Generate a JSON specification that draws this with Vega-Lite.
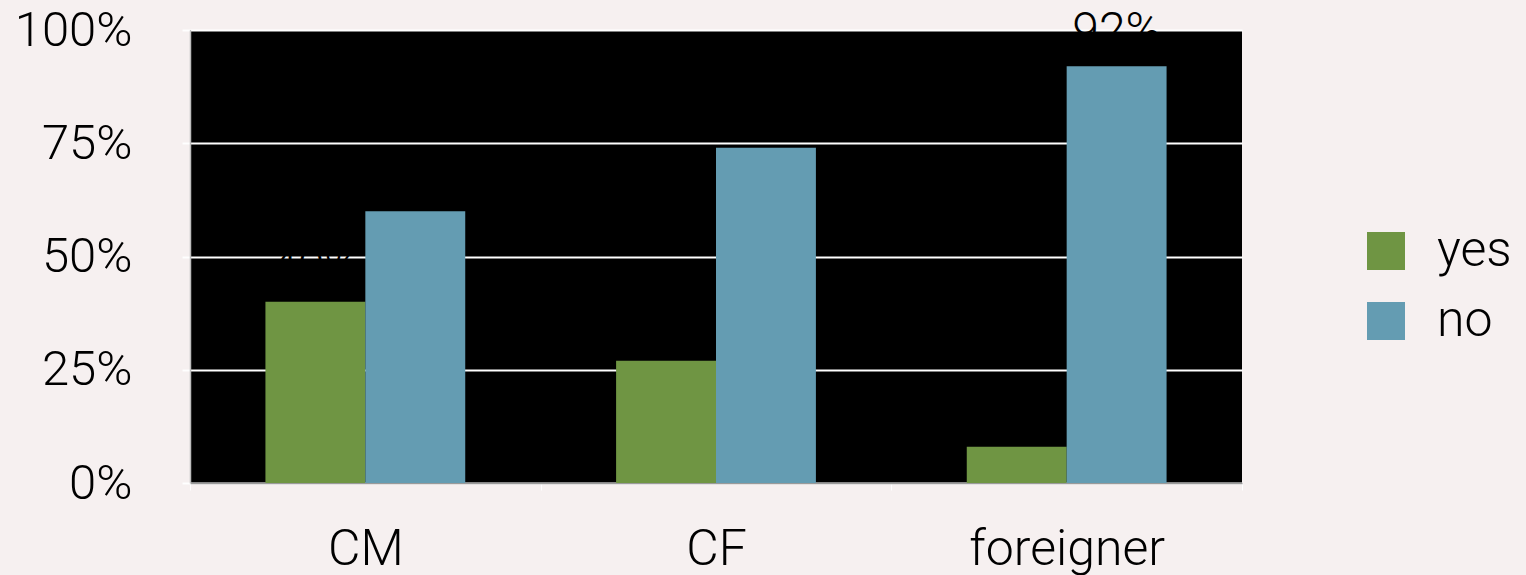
{
  "$schema": "https://vega.github.io/schema/vega-lite/v6.json",
  "width": 1052,
  "height": 453,
  "autosize": {"type": "none"},
  "padding": {"left": 190, "top": 30, "right": 284, "bottom": 92},
  "background": "#f6f0f0",
  "config": {
    "view": {"fill": "black", "stroke": null},
    "font": "Roboto",
    "axis": {"labelFont": "Roboto", "labelFontWeight": 300, "labelColor": "black"},
    "legend": {"labelFont": "Roboto", "labelFontWeight": 300, "labelColor": "black"}
  },
  "data": {
    "values": [
      {"group": "CM", "answer": "yes", "share": 0.40},
      {"group": "CM", "answer": "no", "share": 0.60},
      {"group": "CF", "answer": "yes", "share": 0.27},
      {"group": "CF", "answer": "no", "share": 0.74},
      {"group": "foreigner", "answer": "yes", "share": 0.08},
      {"group": "foreigner", "answer": "no", "share": 0.92}
    ]
  },
  "encoding": {
    "x": {
      "field": "group",
      "type": "nominal",
      "sort": ["CM", "CF", "foreigner"],
      "scale": {"paddingInner": 0, "paddingOuter": 0},
      "axis": {
        "title": null,
        "labelAngle": 0,
        "labelFontSize": 50,
        "labelLimit": 0,
        "labelPadding": 34,
        "tickBand": "extent",
        "tickColor": "white",
        "tickSize": 7,
        "domainColor": "#9a9a9a",
        "domainWidth": 1.5
      }
    },
    "xOffset": {
      "field": "answer",
      "type": "nominal",
      "sort": ["yes", "no"],
      "scale": {"paddingInner": 0, "paddingOuter": 0.755}
    },
    "y": {
      "field": "share",
      "type": "quantitative",
      "scale": {"domain": [0, 1], "nice": false},
      "axis": {
        "title": null,
        "values": [0, 0.25, 0.5, 0.75, 1],
        "format": ".0%",
        "labelFontSize": 49,
        "labelPadding": 50,
        "tickColor": "white",
        "tickSize": 8,
        "tickWidth": 2,
        "gridColor": "white",
        "gridWidth": 2,
        "gridOpacity": 1,
        "domainColor": "#bdbdbd",
        "domainWidth": 1.5
      }
    }
  },
  "layer": [
    {
      "mark": {"type": "bar"},
      "encoding": {
        "color": {
          "field": "answer",
          "type": "nominal",
          "sort": ["yes", "no"],
          "scale": {"domain": ["yes", "no"], "range": ["#6f9543", "#649cb2"]},
          "legend": {
            "title": null,
            "orient": "none",
            "legendX": 1171,
            "legendY": 196,
            "symbolType": "square",
            "symbolSize": 1444,
            "symbolStrokeWidth": 0,
            "symbolOpacity": 1,
            "labelFontSize": 50,
            "labelOffset": 26,
            "rowPadding": 20,
            "symbolOffset": 0
          }
        }
      }
    },
    {
      "mark": {"type": "text", "fontSize": 48, "fontWeight": 300, "color": "black", "baseline": "alphabetic", "dy": -20},
      "encoding": {
        "text": {"field": "share", "type": "quantitative", "format": ".0%"}
      }
    }
  ]
}
